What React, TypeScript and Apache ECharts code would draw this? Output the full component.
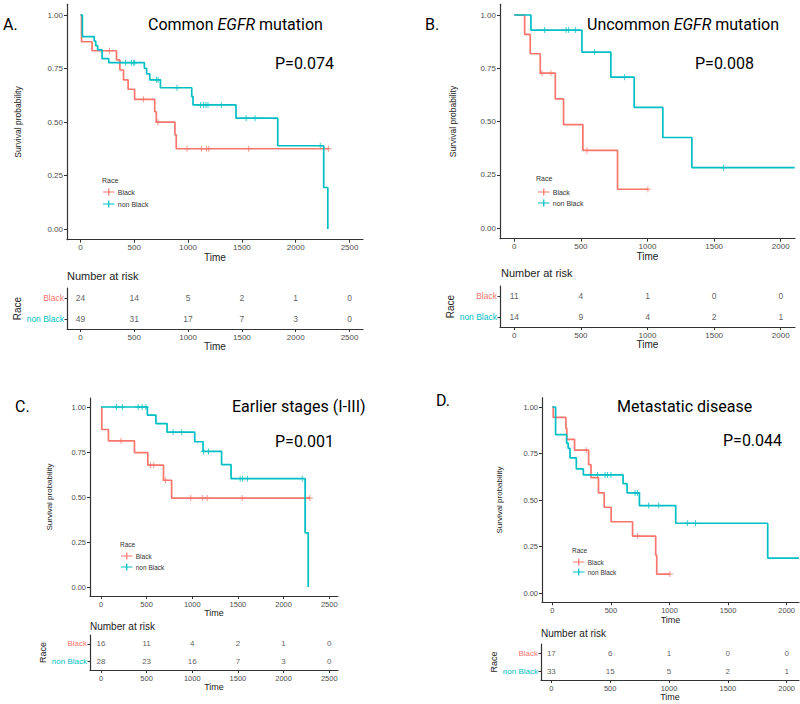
import React, { useEffect, useRef } from "react";
import * as echarts from "echarts";

const RED = "#F8766D";
const CYAN = "#00BFC4";
const AXIS = "#333333";
const TICK_TEXT = "#4D4D4D";
const FONT = "'Liberation Sans', Arial, sans-serif";
const TITLE_FONT = "Roboto, sans-serif";

// ---------- Panel A: Common EGFR mutation ----------
const aBlackTime = [0, 10, 108, 335, 366, 400, 443, 503, 690, 705, 878, 890, 2308];
const aBlackSurv = [1, 0.875, 0.833, 0.79, 0.743, 0.697, 0.653, 0.606, 0.548, 0.499, 0.44, 0.375, 0.375];
const aBlackCensor = [270, 585, 720, 990, 1124, 1170, 1192, 1563, 2306];
const aNonTime = [0, 18, 128, 142, 160, 201, 263, 594, 615, 644, 743, 1034, 1046, 1445, 1833, 2260, 2298];
const aNonSurv = [1, 0.899, 0.878, 0.857, 0.837, 0.796, 0.777, 0.751, 0.725, 0.697, 0.66, 0.619, 0.58, 0.518, 0.389, 0.194, 0];
const aNonCensor = [365, 418, 473, 495, 504, 706, 721, 897, 1116, 1145, 1166, 1185, 1309, 1540, 1622, 2228];
const aRiskTimes = [0, 500, 1000, 1500, 2000, 2500];
const aRiskBlack = [24, 14, 5, 2, 1, 0];
const aRiskNon = [49, 31, 17, 7, 3, 0];

// ---------- Panel B: Uncommon EGFR mutation ----------
const bBlackTime = [0, 78, 120, 195, 308, 370, 515, 775, 1003];
const bBlackSurv = [1, 0.909, 0.818, 0.727, 0.606, 0.485, 0.364, 0.182, 0.182];
const bBlackCensor = [208, 275, 545, 1003];
const bNonTime = [0, 125, 508, 725, 900, 1115, 1333, 2105];
const bNonSurv = [1, 0.929, 0.826, 0.708, 0.566, 0.425, 0.283, 0.283];
const bNonCensor = [228, 390, 408, 458, 603, 828, 1570];
const bRiskTimes = [0, 500, 1000, 1500, 2000];
const bRiskBlack = [11, 4, 1, 0, 0];
const bRiskNon = [14, 9, 4, 2, 1];

// ---------- Panel C: Earlier stages (I-III) ----------
const cBlackTime = [0, 9, 82, 367, 513, 685, 774, 2290];
const cBlackSurv = [1, 0.875, 0.812, 0.747, 0.677, 0.593, 0.494, 0.494];
const cBlackCensor = [220, 542, 578, 706, 983, 1110, 1163, 1547, 2288];
const cNonTime = [0, 508, 602, 724, 1027, 1118, 1321, 1425, 2236, 2270];
const cNonSurv = [1, 0.955, 0.908, 0.86, 0.807, 0.753, 0.68, 0.602, 0.301, 0];
const cNonCensor = [170, 234, 408, 450, 493, 790, 885, 1125, 1178, 1525, 1552, 1603, 2205];
const cRiskTimes = [0, 500, 1000, 1500, 2000, 2500];
const cRiskBlack = [16, 11, 4, 2, 1, 0];
const cRiskNon = [28, 23, 16, 7, 3, 0];

// ---------- Panel D: Metastatic disease ----------
const dBlackTime = [0, 8, 116, 124, 190, 310, 330, 394, 443, 502, 685, 882, 891, 1004];
const dBlackSurv = [1, 0.944, 0.885, 0.826, 0.768, 0.69, 0.62, 0.538, 0.461, 0.383, 0.306, 0.204, 0.102, 0.102];
const dBlackCensor = [290, 729, 1004];
const dNonTime = [0, 28, 122, 135, 151, 205, 265, 604, 638, 743, 1053, 1838, 2105];
const dNonSurv = [1, 0.851, 0.806, 0.778, 0.727, 0.667, 0.635, 0.588, 0.538, 0.47, 0.375, 0.188, 0.188];
const dNonCensor = [386, 450, 472, 500, 706, 726, 822, 908, 1152, 1222];
const dRiskTimes = [0, 500, 1000, 1500, 2000];
const dRiskBlack = [17, 6, 1, 0, 0];
const dRiskNon = [33, 15, 5, 2, 1];

const survTicks = [0, 0.25, 0.5, 0.75, 1];
const groups = ["non Black", "Black"];

const PLUS = "path://M4.2,0H5.8V10H4.2Z M0,4.2H10V5.8H0Z";
const LEG_ICON = "path://M0,3H12V4.3H0Z M5.35,0H6.65V7.3H5.35Z";

const panels = [
  {
    letter: "A.", letterXY: [3, 24], title: ["Common ", "EGFR", " mutation"], titleXY: [148, 24],
    p: "P=0.074", pXY: [275, 63],
    main: { left: 67, top: 4.3, width: 296, height: 235.4 },
    table: { left: 67, top: 288, width: 296, height: 41 },
    xMin: -125, xMax: 2625, ticks: aRiskTimes,
    bt: aBlackTime, bs: aBlackSurv, bc: aBlackCensor, nt: aNonTime, ns: aNonSurv, nc: aNonCensor,
    rb: aRiskBlack, rn: aRiskNon,
    fs: 8, yGap: 45, timeGap: 13, tTimeGap: 12, raceGap: 43, tabFs: 8.5, nameFs: 10,
    nar: [67, 276, 11], race: [102, 180], leg: { left: 103, top: 188.5, gap: 5 }, legFs: 7,
  },
  {
    letter: "B.", letterXY: [425, 24], title: ["Uncommon ", "EGFR", " mutation"], titleXY: [587, 24],
    p: "P=0.008", pXY: [695, 63],
    main: { left: 500, top: 4.35, width: 295, height: 234.3 },
    table: { left: 500, top: 286, width: 295, height: 41 },
    xMin: -107, xMax: 2107, ticks: bRiskTimes,
    bt: bBlackTime, bs: bBlackSurv, bc: bBlackCensor, nt: bNonTime, ns: bNonSurv, nc: bNonCensor,
    rb: bRiskBlack, rn: bRiskNon,
    fs: 8, yGap: 43, timeGap: 12, tTimeGap: 11, raceGap: 43, tabFs: 8.5, nameFs: 10,
    nar: [501, 273, 11], race: [536, 178], leg: { left: 538, top: 188.5, gap: 4 }, legFs: 7,
  },
  {
    letter: "C.", letterXY: [15, 406], title: ["Earlier stages (I-III)"], titleXY: [232, 406],
    p: "P=0.001", pXY: [275, 441],
    main: { left: 90, top: 398, width: 248, height: 198 },
    table: { left: 90, top: 635, width: 248, height: 35 },
    xMin: -120, xMax: 2596, ticks: cRiskTimes,
    bt: cBlackTime, bs: cBlackSurv, bc: cBlackCensor, nt: cNonTime, ns: cNonSurv, nc: cNonCensor,
    rb: cRiskBlack, rn: cRiskNon,
    fs: 7.5, yGap: 37, timeGap: 9, tTimeGap: 10, raceGap: 37, tabFs: 8, nameFs: 9,
    nar: [90, 626, 10], race: [120, 544], leg: { left: 121, top: 552.5, gap: 4 }, legFs: 6.5,
  },
  {
    letter: "D.", letterXY: [436, 400], title: ["Metastatic disease"], titleXY: [617, 406],
    p: "P=0.044", pXY: [723, 440],
    main: { left: 542, top: 397.7, width: 257, height: 204.6 },
    table: { left: 541, top: 644, width: 258, height: 36 },
    xMin: -88, xMax: 2105, ticks: dRiskTimes,
    bt: dBlackTime, bs: dBlackSurv, bc: dBlackCensor, nt: dNonTime, ns: dNonSurv, nc: dNonCensor,
    rb: dRiskBlack, rn: dRiskNon,
    fs: 7.5, yGap: 39, timeGap: 10, tTimeGap: 10, raceGap: 38, tabFs: 8, nameFs: 9,
    nar: [541, 633, 10], race: [572, 550], leg: { left: 573, top: 558.5, gap: 3 }, legFs: 6.5,
  },
];

function survAt(t: number[], s: number[], c: number) {
  let v = s[0];
  for (let i = 0; i < t.length; i++) if (t[i] <= c) v = s[i];
  return v;
}

function buildOption() {
  const grid: any[] = [];
  const xAxis: any[] = [];
  const yAxis: any[] = [];
  const series: any[] = [];
  const legend: any[] = [];
  const graphic: any[] = [];

  panels.forEach((p, i) => {
    const gm = i * 2;
    const gt = i * 2 + 1;
    grid.push({ ...p.main });
    grid.push({ ...p.table });

    const xAx = (gridIndex: number, gap: number) => ({
      type: "value",
      gridIndex,
      min: p.xMin,
      max: p.xMax,
      axisLine: { show: true, onZero: false, lineStyle: { color: AXIS, width: 1.2 } },
      axisTick: { show: true, length: 3, customValues: p.ticks, lineStyle: { color: AXIS } },
      axisLabel: {
        customValues: p.ticks, margin: 4, fontSize: p.fs, color: TICK_TEXT, fontFamily: FONT,
        formatter: (v: number) => String(v),
      },
      splitLine: { show: false },
      name: "Time",
      nameLocation: "middle",
      nameGap: gap,
      nameTextStyle: { fontSize: p.nameFs, color: "#222", fontFamily: FONT },
    });
    xAxis.push(xAx(gm, p.timeGap));
    xAxis.push(xAx(gt, p.tTimeGap));

    yAxis.push({
      type: "value",
      gridIndex: gm,
      min: -0.05,
      max: 1.05,
      axisLine: { show: true, onZero: false, lineStyle: { color: AXIS, width: 1.2 } },
      axisTick: { show: true, length: 3, customValues: survTicks, lineStyle: { color: AXIS } },
      axisLabel: {
        customValues: survTicks, margin: 4, fontSize: p.fs, color: TICK_TEXT, fontFamily: FONT,
        formatter: (v: number) => v.toFixed(2),
      },
      splitLine: { show: false },
      name: "Survival probability",
      nameLocation: "middle",
      nameGap: p.yGap,
      nameTextStyle: { fontSize: p.fs + 0.5, color: "#222", fontFamily: FONT },
    });
    yAxis.push({
      type: "category",
      gridIndex: gt,
      data: groups,
      axisLine: { show: true, onZero: false, lineStyle: { color: AXIS, width: 1.2 } },
      axisTick: { show: true, length: 2.5, alignWithLabel: true, lineStyle: { color: AXIS } },
      axisLabel: {
        margin: 3, fontSize: p.tabFs, fontFamily: FONT,
        color: (v: string) => (v === "Black" ? RED : CYAN),
      },
      name: "Race",
      nameLocation: "middle",
      nameGap: p.raceGap,
      nameTextStyle: { fontSize: p.nameFs, color: "#222", fontFamily: FONT },
    });

    series.push({
      type: "line", name: "Black", xAxisIndex: gm, yAxisIndex: gm, step: "end", symbol: "none",
      data: p.bt.map((t, j) => [t, p.bs[j]]),
      lineStyle: { color: RED, width: 1.7 }, itemStyle: { color: RED }, silent: true,
    });
    series.push({
      type: "scatter", name: "Black", xAxisIndex: gm, yAxisIndex: gm, symbol: PLUS, symbolSize: 6,
      data: p.bc.map((c) => [c, survAt(p.bt, p.bs, c)]),
      itemStyle: { color: RED }, silent: true,
    });
    series.push({
      type: "line", name: "non Black", xAxisIndex: gm, yAxisIndex: gm, step: "end", symbol: "none",
      data: p.nt.map((t, j) => [t, p.ns[j]]),
      lineStyle: { color: CYAN, width: 1.7 }, itemStyle: { color: CYAN }, silent: true,
    });
    series.push({
      type: "scatter", name: "non Black", xAxisIndex: gm, yAxisIndex: gm, symbol: PLUS, symbolSize: 6,
      data: p.nc.map((c) => [c, survAt(p.nt, p.ns, c)]),
      itemStyle: { color: CYAN }, silent: true,
    });

    const riskLabel = {
      show: true, position: "inside", fontSize: p.tabFs, color: "#333", fontFamily: FONT,
      formatter: (q: any) => String(q.value[2]),
    };
    series.push({
      type: "scatter", name: "risk-black-" + i, xAxisIndex: gt, yAxisIndex: gt, symbolSize: 1,
      itemStyle: { color: "transparent" }, label: riskLabel, silent: true,
      data: p.ticks.map((t, j) => [t, "Black", p.rb[j]]),
    });
    series.push({
      type: "scatter", name: "risk-non-" + i, xAxisIndex: gt, yAxisIndex: gt, symbolSize: 1,
      itemStyle: { color: "transparent" }, label: riskLabel, silent: true,
      data: p.ticks.map((t, j) => [t, "non Black", p.rn[j]]),
    });

    legend.push({
      orient: "vertical", left: p.leg.left, top: p.leg.top, padding: 0,
      itemWidth: 12, itemHeight: 7, itemGap: p.leg.gap, selectedMode: false,
      textStyle: { fontSize: p.legFs, color: "#333", fontFamily: FONT, padding: [0, 0, 0, -2] },
      data: [{ name: "Black", icon: LEG_ICON }, { name: "non Black", icon: LEG_ICON }],
    });

    graphic.push({
      type: "text", x: p.letterXY[0], y: p.letterXY[1],
      style: { text: p.letter, fontSize: 16, fontFamily: TITLE_FONT, fill: "#000", verticalAlign: "middle" },
    });
    const titleText = p.title.length === 3
      ? `{n|${p.title[0]}}{i|${p.title[1]}}{n|${p.title[2]}}`
      : `{n|${p.title[0]}}`;
    graphic.push({
      type: "text", x: p.titleXY[0], y: p.titleXY[1],
      style: {
        text: titleText, verticalAlign: "middle", fill: "#000", fontSize: 16, fontFamily: TITLE_FONT,
        rich: {
          n: { fontSize: 16, fontFamily: TITLE_FONT, fill: "#000" },
          i: { fontSize: 16, fontFamily: TITLE_FONT, fontStyle: "italic", fill: "#000" },
        },
      },
    });
    graphic.push({
      type: "text", x: p.pXY[0], y: p.pXY[1],
      style: { text: p.p, fontSize: 16, fontFamily: TITLE_FONT, fill: "#000", verticalAlign: "middle" },
    });
    graphic.push({
      type: "text", x: p.race[0], y: p.race[1],
      style: { text: "Race", fontSize: p.legFs, fontFamily: FONT, fill: "#333", verticalAlign: "middle" },
    });
    graphic.push({
      type: "text", x: p.nar[0], y: p.nar[1],
      style: { text: "Number at risk", fontSize: p.nar[2], fontFamily: FONT, fill: "#222", verticalAlign: "middle" },
    });
  });

  return {
    animation: false,
    backgroundColor: "#ffffff",
    grid, xAxis, yAxis, series, legend, graphic,
  };
}

export default function App() {
  const ref = useRef<HTMLDivElement>(null);
  useEffect(() => {
    if (!ref.current) return;
    const chart = echarts.init(ref.current, undefined, { renderer: "svg" });
    chart.setOption(buildOption() as any);
    return () => chart.dispose();
  }, []);
  return (
    <div
      ref={ref}
      style={{ position: "absolute", left: 0, top: 0, width: 800, height: 704, background: "#fff" }}
    />
  );
}
